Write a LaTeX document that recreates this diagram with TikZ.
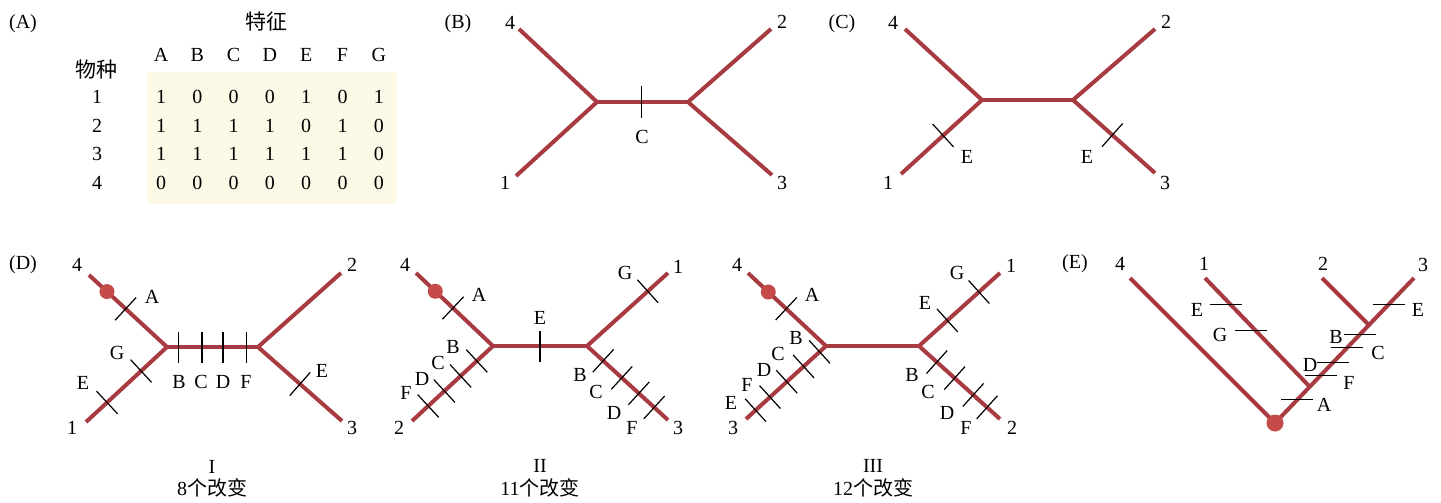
\documentclass[tikz,border=0pt]{standalone}
\usepackage{fontspec}
\setmainfont{Liberation Serif}
\newfontfamily\cjk{Noto Sans CJK SC}
\usepackage{tikz}
\usetikzlibrary{calc,matrix,backgrounds}

\definecolor{branchred}{HTML}{A83A42}
\definecolor{dotred}{HTML}{C44B4A}
\definecolor{tablebg}{HTML}{FCF9E6}

\tikzset{
  branch/.style={draw=branchred,line width=4pt},
  tick/.style={draw=black,line width=1.2pt},
  tk/.style={sloped,inner sep=0pt,outer sep=0pt,minimum width=0pt,minimum height=31pt},
  htk/.style={inner sep=0pt,outer sep=0pt,minimum height=0pt,minimum width=32pt},
  dot/.style={circle,fill=dotred,inner sep=0pt,minimum size=15pt},
  lbl/.style={inner sep=0pt,font=\fontsize{20}{20}\selectfont},
  cjklbl/.style={inner sep=0pt,font=\fontsize{21}{21}\selectfont\cjk},
}

\begin{document}
\begin{tikzpicture}[x=1pt,y=1pt]
\useasboundingbox (0,0) rectangle (1441,-503);
% panel A:
\node[lbl] (tA) at (23,-24) {(A)};
\node[cjklbl] (traitshead) at (266,-22) {特征};
\node[cjklbl] (specieshead) at (96,-70) {物种};
\matrix (traits) [matrix of nodes,inner sep=0pt,column sep=0pt,row sep=0pt,
  nodes={lbl,minimum width=36.3pt,minimum height=28.7pt}] at (237.9,-119) {
    &[27.7pt] A & B & C & D & E & F & G \\[13.3pt]
  1 & 1 & 0 & 0 & 0 & 1 & 0 & 1 \\
  2 & 1 & 1 & 1 & 1 & 0 & 1 & 0 \\
  3 & 1 & 1 & 1 & 1 & 1 & 1 & 0 \\
  4 & 0 & 0 & 0 & 0 & 0 & 0 & 0 \\
};
\begin{scope}[on background layer]
\path[fill=tablebg] ([xshift=4pt,yshift=10pt]traits-2-2.north west) rectangle ([yshift=-6pt]traits-5-8.south east);
\end{scope}
% panel B:
\coordinate (b4) at (519,-29);
\coordinate (bL) at (597,-102);
\coordinate (bR) at (688,-102);
\coordinate (b2) at (771,-29);
\coordinate (b1) at (516,-176);
\coordinate (b3) at (772,-175);
\draw[branch] (b4) -- (bL) -- (b1);
\draw[branch] (b2) -- (bR) -- (b3);
\draw[branch] (bL) -- (bR) node[tk,pos=.49] (bC) {};
\node[lbl] (tB) at (458,-24) {(B)};
\node[lbl] (bn4) at (510,-23) {4};
\node[lbl] (bn2) at (782,-22) {2};
\node[lbl] (bn1) at (505,-183) {1};
\node[lbl] (bn3) at (782,-183) {3};
\node[lbl] (bcC) at (642,-137) {C};
% panel C:
\coordinate (c4) at (905,-29);
\coordinate (cL) at (982,-100);
\coordinate (cR) at (1073,-100);
\coordinate (c2) at (1155,-29);
\coordinate (c1) at (901,-174);
\coordinate (c3) at (1155,-173);
\draw[branch] (c4) -- (cL) -- (c1) node[tk,pos=.48] (cE1) {};
\draw[branch] (c2) -- (cR) -- (c3) node[tk,pos=.48] (cE3) {};
\draw[branch] (cL) -- (cR);
\node[lbl] (tC) at (842,-24) {(C)};
\node[lbl] (cn4) at (893,-23) {4};
\node[lbl] (cn2) at (1166,-22) {2};
\node[lbl] (cn1) at (888,-183) {1};
\node[lbl] (cn3) at (1165,-183) {3};
\node[lbl] (ccE1) at (967,-157) {E};
\node[lbl] (ccE3) at (1087,-157) {E};
% panel D, tree I:
\coordinate (d4) at (89,-275);
\coordinate (dL) at (167,-347);
\coordinate (dR) at (258,-347);
\coordinate (d2) at (341,-273);
\coordinate (d1) at (86,-422);
\coordinate (d3) at (342,-421);
\draw[branch] (d4) -- (dL) node[dot,pos=.23] (dIdot) {} node[tk,pos=.47] (dIa) {}
  -- (d1) node[tk,pos=.32] (dIg) {} node[tk,pos=.74] (dIe1) {};
\draw[branch] (d2) -- (dR) -- (d3) node[tk,pos=.5] (dIe3) {};
\draw[branch] (dL) -- (dR) node[tk,pos=.13] (dIb) {} node[tk,pos=.385] (dIc) {}
  node[tk,pos=.615] (dId) {} node[tk,pos=.87] (dIf) {};
\node[lbl] (tD) at (23,-265) {(D)};
\node[lbl] (dn4) at (77,-265) {4};
\node[lbl] (dn2) at (352,-265) {2};
\node[lbl] (dn1) at (72,-428) {1};
\node[lbl] (dn3) at (352,-428) {3};
\node[lbl] (dcA) at (152,-297) {A};
\node[lbl] (dcG) at (117,-353) {G};
\node[lbl] (dcE1) at (83,-383) {E};
\node[lbl] (dcB) at (179,-382) {B};
\node[lbl] (dcC) at (201,-382) {C};
\node[lbl] (dcD) at (223,-382) {D};
\node[lbl] (dcF) at (246,-382) {F};
\node[lbl] (dcE3) at (322,-371) {E};
\node[lbl] (dnum) at (212,-467) {I};
\node[lbl] (dsum) at (212,-488) {8{\cjk 个改变}};
% panel D, tree II:
\coordinate (ii4) at (416,-273);
\coordinate (iiL) at (493,-346);
\coordinate (iiR) at (587,-346);
\coordinate (ii1) at (668,-273);
\coordinate (ii2) at (412,-421);
\coordinate (ii3) at (668,-420);
\draw[branch] (ii4) -- (iiL) node[dot,pos=.25] (iidot) {} node[tk,pos=.48] (iiA) {}
  -- (ii2) node[tk,pos=.2] (iiB2) {} node[tk,pos=.4] (iiC2) {} node[tk,pos=.6] (iiD2) {} node[tk,pos=.8] (iiF2) {};
\draw[branch] (ii1) -- (iiR) node[tk,pos=.25] (iiG) {}
  -- (ii3) node[tk,pos=.2] (iiB3) {} node[tk,pos=.43] (iiC3) {} node[tk,pos=.64] (iiD3) {} node[tk,pos=.83] (iiF3) {};
\draw[branch] (iiL) -- (iiR) node[tk,pos=.5] (iiE) {};
\node[lbl] (iin4) at (405,-265) {4};
\node[lbl] (iin1) at (678,-267) {1};
\node[lbl] (iin2) at (399,-428) {2};
\node[lbl] (iin3) at (678,-428) {3};
\node[lbl] (iicA) at (479,-295) {A};
\node[lbl] (iicE) at (540,-318) {E};
\node[lbl] (iicG) at (625,-273) {G};
\node[lbl] (iicB2) at (453,-347) {B};
\node[lbl] (iicC2) at (438,-363) {C};
\node[lbl] (iicD2) at (422,-379) {D};
\node[lbl] (iicF2) at (406,-393) {F};
\node[lbl] (iicB3) at (580,-375) {B};
\node[lbl] (iicC3) at (596,-392) {C};
\node[lbl] (iicD3) at (614,-413) {D};
\node[lbl] (iicF3) at (632,-428) {F};
\node[lbl] (iinum) at (540,-466) {II};
\node[lbl] (iisum) at (540,-488) {11{\cjk 个改变}};
% panel D, tree III:
\coordinate (iii4) at (748,-273);
\coordinate (iiiL) at (826,-346);
\coordinate (iiiR) at (919,-346);
\coordinate (iii1) at (1000,-273);
\coordinate (iii3) at (746,-419);
\coordinate (iii2) at (1000,-419);
\draw[branch] (iii4) -- (iiiL) node[dot,pos=.26] (iiidot) {} node[tk,pos=.49] (iiiA) {}
  -- (iii3) node[tk,pos=.08] (iiiB3) {} node[tk,pos=.28] (iiiC3) {} node[tk,pos=.49] (iiiD3) {}
  node[tk,pos=.7] (iiiF3) {} node[tk,pos=.88] (iiiE3) {};
\draw[branch] (iii1) -- (iiiR) node[tk,pos=.26] (iiiG) {} node[tk,pos=.65] (iiiE1) {}
  -- (iii2) node[tk,pos=.22] (iiiB2) {} node[tk,pos=.44] (iiiC2) {} node[tk,pos=.67] (iiiD2) {} node[tk,pos=.84] (iiiF2) {};
\draw[branch] (iiiL) -- (iiiR);
\node[lbl] (iiin4) at (737,-265) {4};
\node[lbl] (iiin1) at (1011,-266) {1};
\node[lbl] (iiin3) at (733,-428) {3};
\node[lbl] (iiin2) at (1012,-428) {2};
\node[lbl] (iiicA) at (812,-295) {A};
\node[lbl] (iiicG) at (957,-273) {G};
\node[lbl] (iiicE1) at (925,-303) {E};
\node[lbl] (iiicB3) at (796,-338) {B};
\node[lbl] (iiicC3) at (778,-354) {C};
\node[lbl] (iiicD3) at (764,-370) {D};
\node[lbl] (iiicF3) at (747,-385) {F};
\node[lbl] (iiicE3) at (731,-403) {E};
\node[lbl] (iiicB2) at (912,-375) {B};
\node[lbl] (iiicC2) at (928,-392) {C};
\node[lbl] (iiicD2) at (947,-413) {D};
\node[lbl] (iiicF2) at (966,-428) {F};
\node[lbl] (iiinum) at (873,-466) {III};
\node[lbl] (iiisum) at (873,-488) {12{\cjk 个改变}};
% panel E:
\coordinate (eroot) at (1275,-423);
\coordinate (e4) at (1130,-278);
\coordinate (e1) at (1205,-278);
\coordinate (e2) at (1322,-278);
\coordinate (e3) at (1414,-278);
\coordinate (ej1) at ($(eroot)!.25!(e3)$);
\coordinate (ej2) at ($(eroot)!.676!(e3)$);
\draw[branch] (e4) -- (eroot) -- (e3) node[htk,pos=.16] (eA) {} node[htk,pos=.33] (eF) {}
  node[htk,pos=.42] (eD) {} node[htk,pos=.52] (eC) {} node[htk,pos=.61] (eB) {} node[htk,pos=.82] (eE3) {};
\draw[branch] (e1) -- (ej1) node[htk,pos=.24,xshift=-4pt] (eE1) {} node[htk,pos=.48,xshift=-4pt] (eG) {};
\draw[branch] (e2) -- (ej2);
\node[dot,minimum size=17pt] (erootdot) at (eroot) {};
\node[lbl] (tE) at (1075,-264) {(E)};
\node[lbl] (en4) at (1120,-264) {4};
\node[lbl] (en1) at (1204,-264) {1};
\node[lbl] (en2) at (1323,-264) {2};
\node[lbl] (en3) at (1423,-265) {3};
\node[lbl] (ecE1) at (1197,-310) {E};
\node[lbl] (ecG) at (1220,-335) {G};
\node[lbl] (ecA) at (1324,-405) {A};
\node[lbl] (ecF) at (1349,-383) {F};
\node[lbl] (ecD) at (1310,-365) {D};
\node[lbl] (ecC) at (1378,-353) {C};
\node[lbl] (ecB) at (1336,-337) {B};
\node[lbl] (ecE3) at (1418,-310) {E};
% character changes:
\foreach \t in {bC,cE1,cE3,dIa,dIg,dIe1,dIe3,dIb,dIc,dId,dIf,
  iiA,iiB2,iiC2,iiD2,iiF2,iiG,iiB3,iiC3,iiD3,iiF3,iiE,
  iiiA,iiiB3,iiiC3,iiiD3,iiiF3,iiiE3,iiiG,iiiE1,iiiB2,iiiC2,iiiD2,iiiF2}
  \draw[tick] (\t.north) -- (\t.south);
\foreach \t in {eA,eF,eD,eC,eB,eE3,eE1,eG}
  \draw[tick] (\t.west) -- (\t.east);
\end{tikzpicture}
\end{document}
